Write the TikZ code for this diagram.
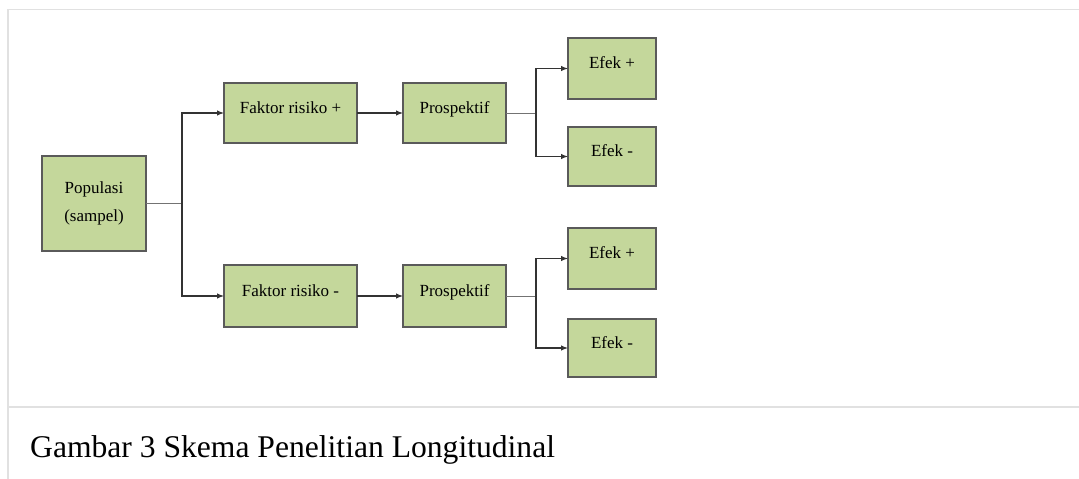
\documentclass[tikz,border=0pt]{standalone}
\usepackage{fontspec}
\setmainfont{Liberation Serif}
\usetikzlibrary{arrows.meta, positioning, calc}
\definecolor{kotakhijau}{RGB}{196,215,155}
\definecolor{garistepi}{RGB}{90,90,90}
\definecolor{bingkai}{RGB}{225,225,225}
\tikzset{
  kotak/.style={draw=garistepi, line width=1.1pt, fill=kotakhijau, inner sep=0pt, outer sep=0pt,
    font=\fontsize{17}{20}\selectfont, text height=12pt, text depth=12pt},
  kotakpop/.style={draw=garistepi, line width=1.1pt, fill=kotakhijau, inner sep=0pt, outer sep=0pt,
    font=\fontsize{17}{28}\selectfont, align=center},
  garis/.style={draw=black!55, line width=1pt},
  panah/.style={draw=black!80, line width=1.1pt, -{Latex[length=7pt,width=5.5pt]}}
}
\begin{document}
\begin{tikzpicture}[x=1pt, y=-1pt]
        \useasboundingbox (0,0) rectangle (1079,479);
        % Bingkai halaman
        \draw[bingkai, line width=2pt] (7.5,9) -- (7.5,479);
        \draw[bingkai, line width=1.5pt] (7,9.5) -- (1079,9.5);
        \draw[bingkai, line width=1.5pt] (8,407) -- (1079,407);

        % Kotak populasi dan faktor risiko
        \node[kotakpop, minimum width=104pt, minimum height=95pt] (pop) at (94,203.5) {Populasi\\(sampel)};
        \node[kotak, minimum width=133pt, minimum height=60pt] (fplus) at (290.5,113) {Faktor risiko +};
        \node[kotak, minimum width=133pt, minimum height=62pt] (fminus) at (290.5,296) {Faktor risiko -};

        % Kotak prospektif
        \node[kotak, minimum width=103pt, minimum height=60pt] (pplus) at (454.5,113) {Prospektif};
        \node[kotak, minimum width=103pt, minimum height=62pt] (pminus) at (454.5,296) {Prospektif};

        % Kotak efek
        \node[kotak, minimum width=88pt, minimum height=61pt] (ea) at (612,68.5) {Efek +};
        \node[kotak, minimum width=88pt, minimum height=59pt] (eb) at (612,156.5) {Efek -};
        \node[kotak, minimum width=88pt, minimum height=61pt] (ec) at (612,258.5) {Efek +};
        \node[kotak, minimum width=88pt, minimum height=58pt] (ed) at (612,348) {Efek -};

        % Titik cabang
        \coordinate (cab1) at (182,0);
        \coordinate (cab2) at (536,0);

        % Percabangan dari populasi
        \draw[garis] (pop.east) -- (pop.east -| cab1);
        \draw[panah] (pop.east -| cab1) |- (fplus.west);
        \draw[panah] (pop.east -| cab1) |- (fminus.west);

        % Faktor risiko ke prospektif
        \draw[panah] (fplus) -- (pplus);
        \draw[panah] (fminus) -- (pminus);

        % Percabangan dari prospektif
        \draw[garis] (pplus.east) -- (pplus.east -| cab2);
        \draw[panah] (pplus.east -| cab2) |- (ea.west);
        \draw[panah] (pplus.east -| cab2) |- (eb.west);
        \draw[garis] (pminus.east) -- (pminus.east -| cab2);
        \draw[panah] (pminus.east -| cab2) |- (ec.west);
        \draw[panah] (pminus.east -| cab2) |- (ed.west);

        % Keterangan gambar
        \node[anchor=base west, inner sep=0pt, font=\fontsize{31.6}{36}\selectfont] (judul) at (30,457) {Gambar 3 Skema Penelitian Longitudinal};
    \end{tikzpicture}
\end{document}
